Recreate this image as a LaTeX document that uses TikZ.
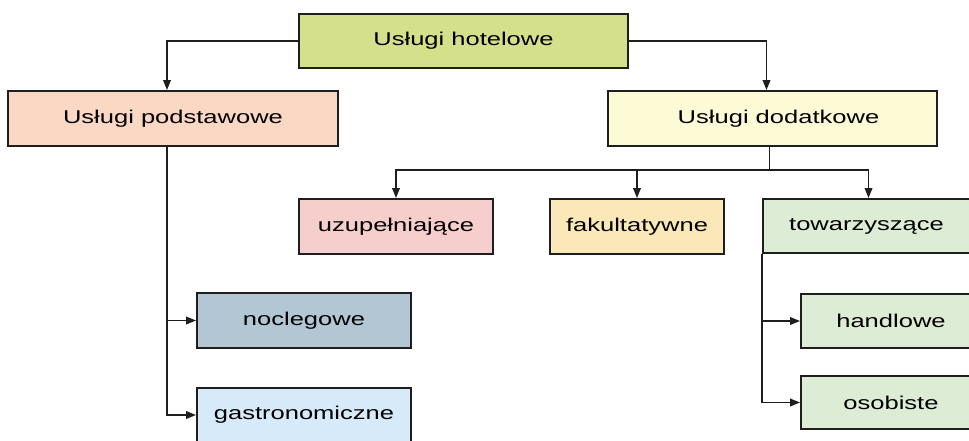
\documentclass[tikz,border=0pt]{standalone}
\usepackage{fontspec}
\setmainfont[FakeStretch=1.38]{Liberation Sans}
\usetikzlibrary{arrows.meta}

\definecolor{cHotel}{RGB}{212,224,138}
\definecolor{cPodst}{RGB}{251,216,196}
\definecolor{cDodat}{RGB}{252,251,214}
\definecolor{cUzup}{RGB}{246,206,204}
\definecolor{cFakul}{RGB}{251,232,184}
\definecolor{cTowar}{RGB}{221,236,212}
\definecolor{cNocl}{RGB}{178,198,212}
\definecolor{cGastr}{RGB}{214,234,250}
\definecolor{cLine}{RGB}{30,30,30}

\tikzset{
  box/.style={draw=cLine, line width=1.8pt, inner sep=0pt,
    font=\fontsize{18.5}{22}\selectfont, text=black},
  arr/.style={draw=cLine, line width=1.8pt,
    -{Triangle[length=10pt,width=7.5pt]}},
  ln/.style={draw=cLine, line width=1.8pt}
}

\begin{document}
\begin{tikzpicture}[x=1pt, y=-1pt]
  \clip (0,0) rectangle (969,440);
  \fill[white] (0,0) rectangle (969,440);

  % top level
  \node[box, fill=cHotel, minimum width=329pt, minimum height=54pt] (hot) at (463.5,41) {Usługi hotelowe};

  % second level
  \node[box, fill=cPodst, minimum width=330pt, minimum height=55pt] (pod) at (173,118.5) {Usługi podstawowe\hspace{18pt}};
  \node[box, fill=cDodat, minimum width=329pt, minimum height=55pt] (dod) at (772.5,118.5) {\hspace{12pt}Usługi dodatkowe};

  % kinds of additional services
  \node[box, fill=cUzup, minimum width=194pt, minimum height=55pt] (uzu) at (396,226.5) {uzupełniające};
  \node[box, fill=cFakul, minimum width=174pt, minimum height=55pt] (fak) at (637,226.5) {fakultatywne};
  \node[box, fill=cTowar, minimum width=207pt, minimum height=54pt] (tow) at (866.5,226) {towarzyszące\hspace{4pt}};
  \node[box, fill=cTowar, minimum width=180pt, minimum height=54pt] (han) at (891,321) {handlowe};
  \node[box, fill=cTowar, minimum width=180pt, minimum height=53pt] (oso) at (891,402.5) {osobiste};

  % kinds of basic services
  \node[box, fill=cNocl, minimum width=214pt, minimum height=55pt] (noc) at (304,320.5) {noclegowe};
  \node[box, fill=cGastr, minimum width=214pt, minimum height=54pt] (gas) at (304,415) {gastronomiczne};

  % connectors from the top box
  \draw[arr] (hot.west) -| ([xshift=-6pt]pod.north);
  \draw[arr] (hot.east) -| ([xshift=-6pt]dod.north);

  % branch below the additional services
  \draw[ln] ([xshift=-3pt]dod.south) -- ++(0,23) coordinate (bus);
  \draw[arr] (bus) -| (uzu.north);
  \draw[arr] (bus) -| (fak.north);
  \draw[arr] (bus) -| ([xshift=2pt]tow.north);

  % branch below the basic services
  \draw[arr] ([xshift=-6pt]pod.south) |- (noc.west);
  \draw[arr] ([xshift=-6pt]pod.south) |- (gas.west);

  % branch below the accompanying services
  \draw[arr] (tow.south west) |- (han.west);
  \draw[arr] (tow.south west) |- (oso.west);
\end{tikzpicture}
\end{document}
